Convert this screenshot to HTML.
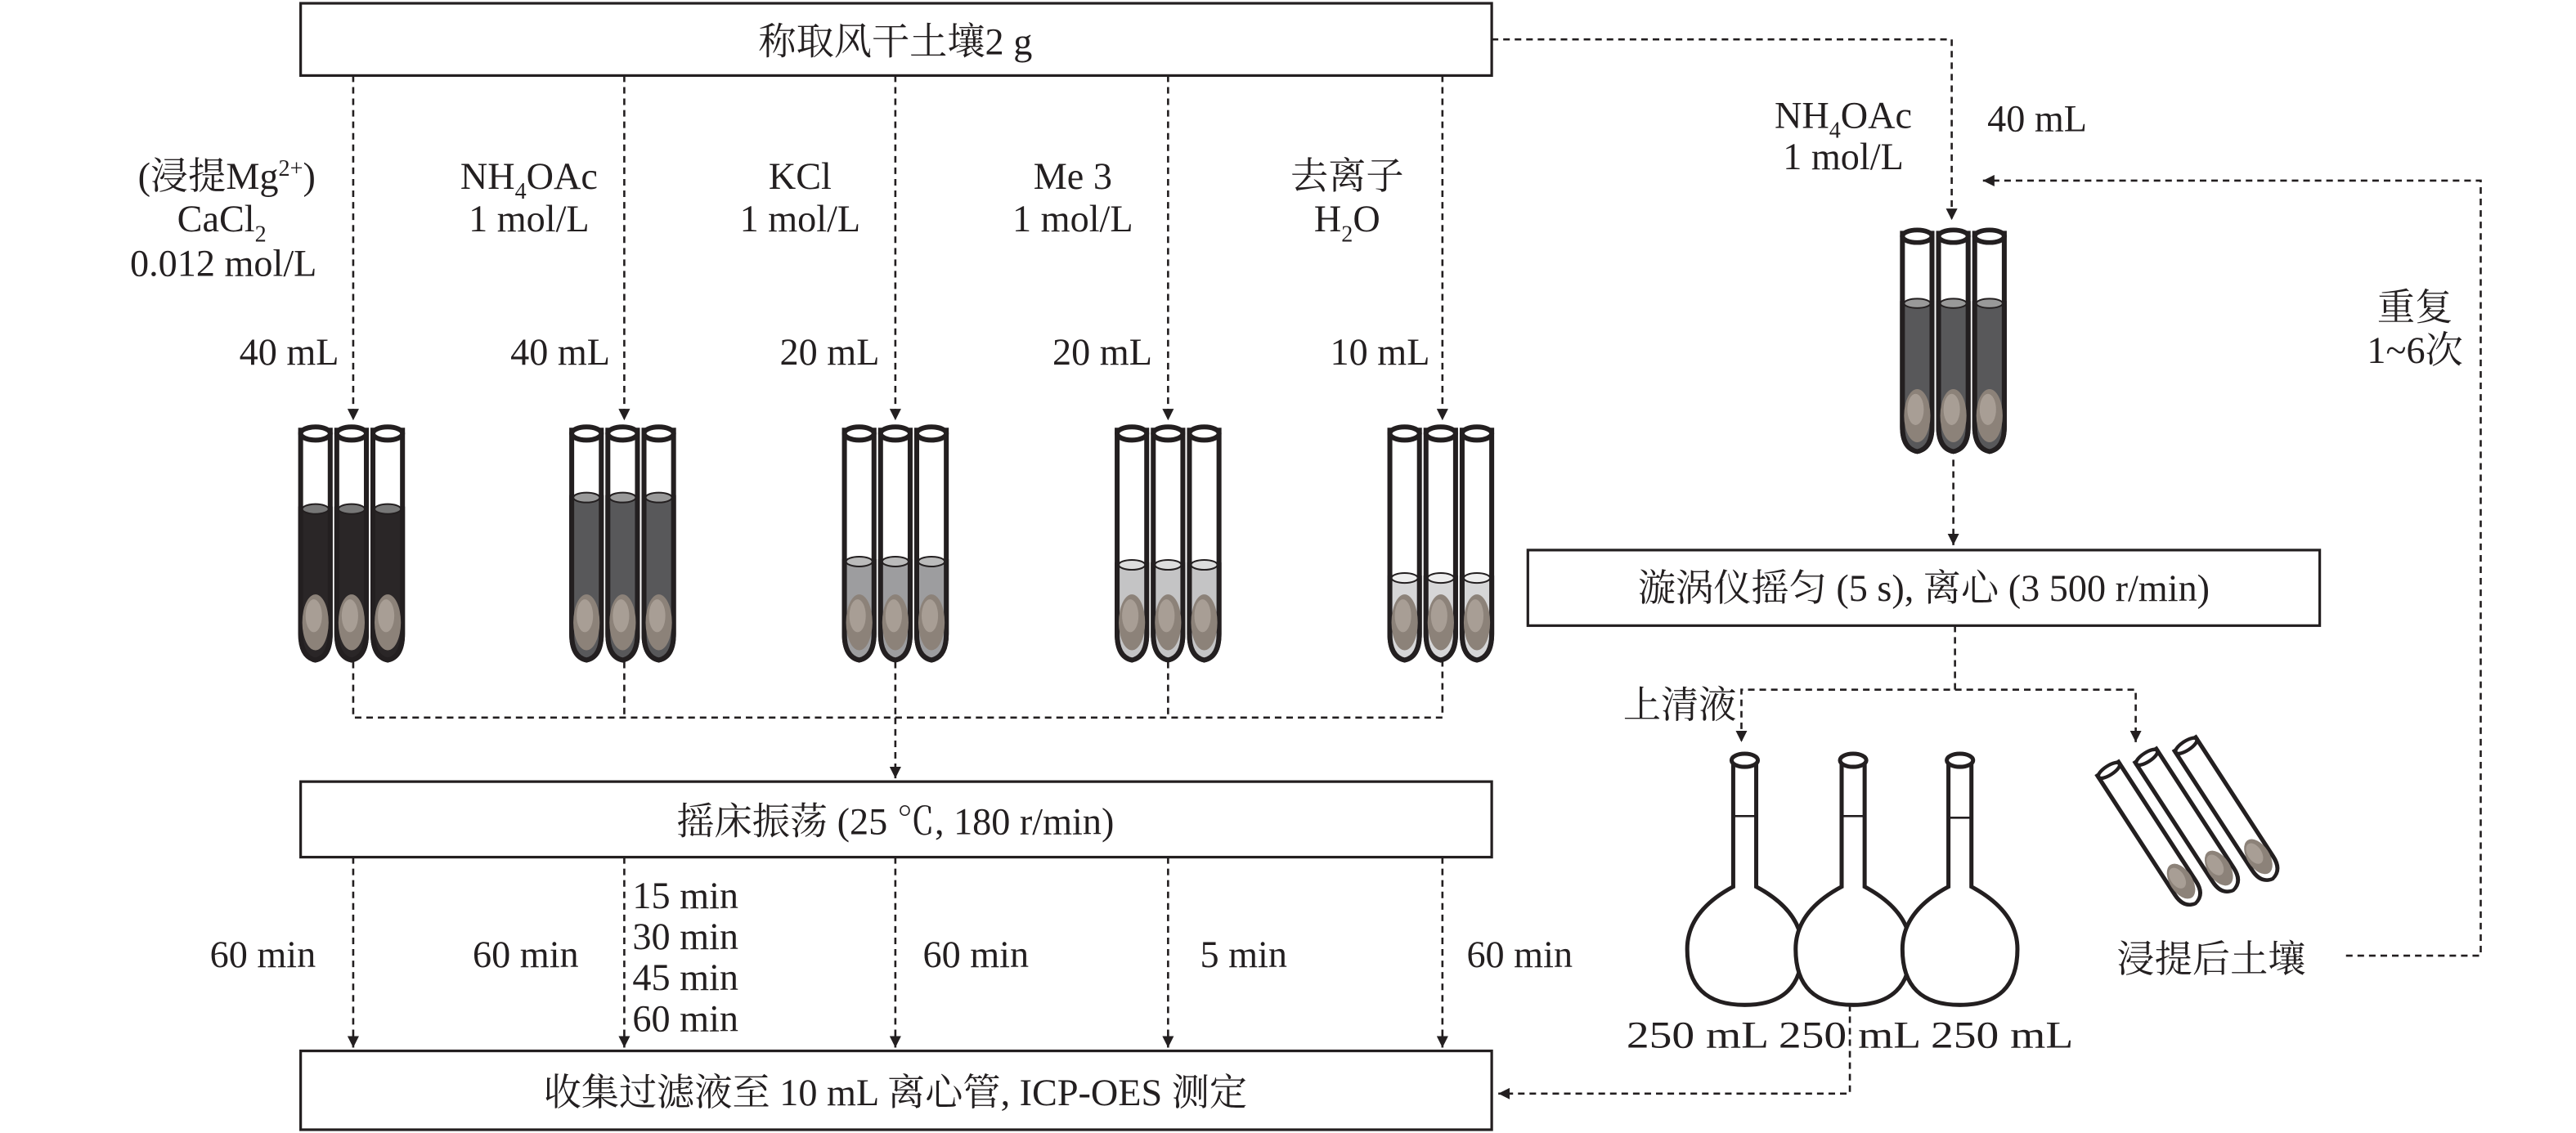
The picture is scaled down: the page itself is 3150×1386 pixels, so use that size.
<!DOCTYPE html>
<html><head><meta charset="utf-8"><style>
html,body{margin:0;padding:0;background:#fff;}
svg{display:block;}
text{font-family:"Liberation Serif","Noto Serif CJK SC",serif;font-size:23px;fill:#231f20;}
</style></head><body>
<svg width="3150" height="1386" viewBox="0 0 1568 690" preserveAspectRatio="none" xmlns="http://www.w3.org/2000/svg" font-family="Liberation Serif, Noto Serif CJK SC, serif">
<defs>
<marker id="ar" viewBox="0 0 10 10" refX="10" refY="5" markerWidth="7" markerHeight="7" orient="auto" markerUnits="userSpaceOnUse"><path d="M0,0 L10,5 L0,10 Z" fill="#231f20"/></marker>
<path id="tb" d="M-9,0 V124 Q-9,138 0,140 Q9,138 9,124 V0 Z"/>
<g id="soil"><ellipse cx="0" cy="117" rx="8" ry="17" fill="#8c8279"/><ellipse cx="-1" cy="113" rx="5" ry="10" fill="#a89e95"/></g>
</defs>
<g fill="none" stroke="#231f20" stroke-width="1.3" stroke-dasharray="4,3">
<path d="M215,46 V256" marker-end="url(#ar)"/>
<path d="M380,46 V256" marker-end="url(#ar)"/>
<path d="M545,46 V256" marker-end="url(#ar)"/>
<path d="M711,46 V256" marker-end="url(#ar)"/>
<path d="M878,46 V256" marker-end="url(#ar)"/>
<path d="M215,403 V437 H878 V403 M380,403 V437 M711,403 V437 M545,403 V437"/>
<path d="M545,437 V474" marker-end="url(#ar)"/>
<path d="M215,522 V638" marker-end="url(#ar)"/>
<path d="M380,522 V638" marker-end="url(#ar)"/>
<path d="M545,522 V638" marker-end="url(#ar)"/>
<path d="M711,522 V638" marker-end="url(#ar)"/>
<path d="M878,522 V638" marker-end="url(#ar)"/>
<path d="M908,24 H1188 V134" marker-end="url(#ar)"/>
<path d="M1189,280 V332" marker-end="url(#ar)"/>
<path d="M1190,381 V420 H1060 V452" marker-end="url(#ar)"/>
<path d="M1190,420 H1300 V452" marker-end="url(#ar)"/>
<path d="M1126,612 V666 H912" marker-end="url(#ar)"/>
<path d="M1428,582 H1510 V110 H1207" marker-end="url(#ar)"/>
</g>
<g fill="#fff" stroke="#231f20" stroke-width="1.6">
<rect x="183" y="2" width="725" height="44"/>
<rect x="183" y="476" width="725" height="46"/>
<rect x="183" y="640" width="725" height="48"/>
<rect x="930" y="335" width="482" height="46"/>
</g>
<text x="545" y="33" text-anchor="middle">称取风干土壤2 g</text>
<text x="545" y="508" text-anchor="middle">摇床振荡 (25 ℃, 180 r/min)</text>
<text x="545" y="673" text-anchor="middle">收集过滤液至 10 mL 离心管, ICP-OES 测定</text>
<text x="1171" y="366" text-anchor="middle">漩涡仪摇匀 (5 s), 离心 (3 500 r/min)</text>
<g text-anchor="middle">
<text x="138" y="115">(浸提Mg<tspan font-size="14" dy="-8">2+</tspan><tspan dy="8">)</tspan></text>
<text x="135" y="141">CaCl<tspan font-size="14" dy="6">2</tspan></text>
<text x="136" y="168">0.012 mol/L</text>
<text x="322" y="115">NH<tspan font-size="14" dy="6">4</tspan><tspan dy="-6">OAc</tspan></text>
<text x="322" y="141">1 mol/L</text>
<text x="487" y="115">KCl</text>
<text x="487" y="141">1 mol/L</text>
<text x="653" y="115">Me 3</text>
<text x="653" y="141">1 mol/L</text>
<text x="820" y="115">去离子</text>
<text x="820" y="141">H<tspan font-size="14" dy="6">2</tspan><tspan dy="-6">O</tspan></text>
<text x="176" y="222">40 mL</text>
<text x="341" y="222">40 mL</text>
<text x="505" y="222">20 mL</text>
<text x="671" y="222">20 mL</text>
<text x="840" y="222">10 mL</text>
<text x="160" y="589">60 min</text>
<text x="320" y="589">60 min</text>
<text x="594" y="589">60 min</text>
<text x="757" y="589">5 min</text>
<text x="925" y="589">60 min</text>
<text x="1122" y="78">NH<tspan font-size="14" dy="6">4</tspan><tspan dy="-6">OAc</tspan></text>
<text x="1122" y="103">1  mol/L</text>
<text x="1240" y="80">40 mL</text>
<text x="1470" y="195">重复</text>
<text x="1470" y="221">1~6次</text>
<text x="1346" y="592">浸提后土壤</text>
</g>
<g>
<text x="385" y="553">15 min</text>
<text x="385" y="578">30 min</text>
<text x="385" y="603">45 min</text>
<text x="385" y="628">60 min</text>
<text x="988" y="437">上清液</text>
<text x="990" y="638" textLength="272" lengthAdjust="spacingAndGlyphs">250 mL 250 mL 250 mL</text>
</g>
<g stroke="#231f20" stroke-width="3">
<g>
<g transform="translate(192,262)"><use href="#tb" fill="#fff"/><path d="M-9,48 V124 Q-9,138 0,140 Q9,138 9,124 V48 Z" fill="#2a2627"/><ellipse cx="0" cy="48" rx="8" ry="3" fill="#777" stroke-width="1"/><use href="#soil" stroke="none"/><ellipse cx="0" cy="2" rx="9" ry="4" fill="#fff"/></g>
<g transform="translate(214,262)"><use href="#tb" fill="#fff"/><path d="M-9,48 V124 Q-9,138 0,140 Q9,138 9,124 V48 Z" fill="#2a2627"/><ellipse cx="0" cy="48" rx="8" ry="3" fill="#777" stroke-width="1"/><use href="#soil" stroke="none"/><ellipse cx="0" cy="2" rx="9" ry="4" fill="#fff"/></g>
<g transform="translate(236,262)"><use href="#tb" fill="#fff"/><path d="M-9,48 V124 Q-9,138 0,140 Q9,138 9,124 V48 Z" fill="#2a2627"/><ellipse cx="0" cy="48" rx="8" ry="3" fill="#777" stroke-width="1"/><use href="#soil" stroke="none"/><ellipse cx="0" cy="2" rx="9" ry="4" fill="#fff"/></g>
</g>
<g>
<g transform="translate(357,262)"><use href="#tb" fill="#fff"/><path d="M-9,41 V124 Q-9,138 0,140 Q9,138 9,124 V41 Z" fill="#58585a"/><ellipse cx="0" cy="41" rx="8" ry="3" fill="#999" stroke-width="1"/><use href="#soil" stroke="none"/><ellipse cx="0" cy="2" rx="9" ry="4" fill="#fff"/></g>
<g transform="translate(379,262)"><use href="#tb" fill="#fff"/><path d="M-9,41 V124 Q-9,138 0,140 Q9,138 9,124 V41 Z" fill="#58585a"/><ellipse cx="0" cy="41" rx="8" ry="3" fill="#999" stroke-width="1"/><use href="#soil" stroke="none"/><ellipse cx="0" cy="2" rx="9" ry="4" fill="#fff"/></g>
<g transform="translate(401,262)"><use href="#tb" fill="#fff"/><path d="M-9,41 V124 Q-9,138 0,140 Q9,138 9,124 V41 Z" fill="#58585a"/><ellipse cx="0" cy="41" rx="8" ry="3" fill="#999" stroke-width="1"/><use href="#soil" stroke="none"/><ellipse cx="0" cy="2" rx="9" ry="4" fill="#fff"/></g>
</g>
<g>
<g transform="translate(523,262)"><use href="#tb" fill="#fff"/><path d="M-9,80 V124 Q-9,138 0,140 Q9,138 9,124 V80 Z" fill="#9d9d9f"/><ellipse cx="0" cy="80" rx="8" ry="3" fill="#bbb" stroke-width="1"/><use href="#soil" stroke="none"/><ellipse cx="0" cy="2" rx="9" ry="4" fill="#fff"/></g>
<g transform="translate(545,262)"><use href="#tb" fill="#fff"/><path d="M-9,80 V124 Q-9,138 0,140 Q9,138 9,124 V80 Z" fill="#9d9d9f"/><ellipse cx="0" cy="80" rx="8" ry="3" fill="#bbb" stroke-width="1"/><use href="#soil" stroke="none"/><ellipse cx="0" cy="2" rx="9" ry="4" fill="#fff"/></g>
<g transform="translate(567,262)"><use href="#tb" fill="#fff"/><path d="M-9,80 V124 Q-9,138 0,140 Q9,138 9,124 V80 Z" fill="#9d9d9f"/><ellipse cx="0" cy="80" rx="8" ry="3" fill="#bbb" stroke-width="1"/><use href="#soil" stroke="none"/><ellipse cx="0" cy="2" rx="9" ry="4" fill="#fff"/></g>
</g>
<g>
<g transform="translate(689,262)"><use href="#tb" fill="#fff"/><path d="M-9,82 V124 Q-9,138 0,140 Q9,138 9,124 V82 Z" fill="#c4c4c5"/><ellipse cx="0" cy="82" rx="8" ry="3" fill="#ddd" stroke-width="1"/><use href="#soil" stroke="none"/><ellipse cx="0" cy="2" rx="9" ry="4" fill="#fff"/></g>
<g transform="translate(711,262)"><use href="#tb" fill="#fff"/><path d="M-9,82 V124 Q-9,138 0,140 Q9,138 9,124 V82 Z" fill="#c4c4c5"/><ellipse cx="0" cy="82" rx="8" ry="3" fill="#ddd" stroke-width="1"/><use href="#soil" stroke="none"/><ellipse cx="0" cy="2" rx="9" ry="4" fill="#fff"/></g>
<g transform="translate(733,262)"><use href="#tb" fill="#fff"/><path d="M-9,82 V124 Q-9,138 0,140 Q9,138 9,124 V82 Z" fill="#c4c4c5"/><ellipse cx="0" cy="82" rx="8" ry="3" fill="#ddd" stroke-width="1"/><use href="#soil" stroke="none"/><ellipse cx="0" cy="2" rx="9" ry="4" fill="#fff"/></g>
</g>
<g>
<g transform="translate(855,262)"><use href="#tb" fill="#fff"/><path d="M-9,90 V124 Q-9,138 0,140 Q9,138 9,124 V90 Z" fill="#d6d6d7"/><ellipse cx="0" cy="90" rx="8" ry="3" fill="#eee" stroke-width="1"/><use href="#soil" stroke="none"/><ellipse cx="0" cy="2" rx="9" ry="4" fill="#fff"/></g>
<g transform="translate(877,262)"><use href="#tb" fill="#fff"/><path d="M-9,90 V124 Q-9,138 0,140 Q9,138 9,124 V90 Z" fill="#d6d6d7"/><ellipse cx="0" cy="90" rx="8" ry="3" fill="#eee" stroke-width="1"/><use href="#soil" stroke="none"/><ellipse cx="0" cy="2" rx="9" ry="4" fill="#fff"/></g>
<g transform="translate(899,262)"><use href="#tb" fill="#fff"/><path d="M-9,90 V124 Q-9,138 0,140 Q9,138 9,124 V90 Z" fill="#d6d6d7"/><ellipse cx="0" cy="90" rx="8" ry="3" fill="#eee" stroke-width="1"/><use href="#soil" stroke="none"/><ellipse cx="0" cy="2" rx="9" ry="4" fill="#fff"/></g>
</g>
<g>
<g transform="translate(1167,142) scale(1,0.95)"><use href="#tb" fill="#fff"/><path d="M-9,45 V124 Q-9,138 0,140 Q9,138 9,124 V45 Z" fill="#58585a"/><ellipse cx="0" cy="45" rx="8" ry="3" fill="#999" stroke-width="1"/><use href="#soil" stroke="none"/><ellipse cx="0" cy="2" rx="9" ry="4" fill="#fff"/></g>
<g transform="translate(1189,142) scale(1,0.95)"><use href="#tb" fill="#fff"/><path d="M-9,45 V124 Q-9,138 0,140 Q9,138 9,124 V45 Z" fill="#58585a"/><ellipse cx="0" cy="45" rx="8" ry="3" fill="#999" stroke-width="1"/><use href="#soil" stroke="none"/><ellipse cx="0" cy="2" rx="9" ry="4" fill="#fff"/></g>
<g transform="translate(1211,142) scale(1,0.95)"><use href="#tb" fill="#fff"/><path d="M-9,45 V124 Q-9,138 0,140 Q9,138 9,124 V45 Z" fill="#58585a"/><ellipse cx="0" cy="45" rx="8" ry="3" fill="#999" stroke-width="1"/><use href="#soil" stroke="none"/><ellipse cx="0" cy="2" rx="9" ry="4" fill="#fff"/></g>
</g>
<g transform="translate(1283,468) rotate(-33) scale(0.85,0.7)"><use href="#tb" fill="#fff"/><use href="#soil" stroke="none"/><ellipse cx="0" cy="2" rx="9" ry="4" fill="#fff"/></g>
<g transform="translate(1306,460) rotate(-33) scale(0.85,0.7)"><use href="#tb" fill="#fff"/><use href="#soil" stroke="none"/><ellipse cx="0" cy="2" rx="9" ry="4" fill="#fff"/></g>
<g transform="translate(1330,453) rotate(-33) scale(0.85,0.7)"><use href="#tb" fill="#fff"/><use href="#soil" stroke="none"/><ellipse cx="0" cy="2" rx="9" ry="4" fill="#fff"/></g>
</g>
<g fill="#fff" stroke="#231f20" stroke-width="2.5">
<g transform="translate(1062,0)"><path d="M-7,462 V540 Q-35,555 -35,578 Q-35,612 0,612 Q35,612 35,578 Q35,555 7,540 V462 Z"/><ellipse cx="0" cy="463" rx="8" ry="4"/><line x1="-7" y1="497" x2="7" y2="497" stroke-width="1.3"/></g>
<g transform="translate(1128,0)"><path d="M-7,462 V540 Q-35,555 -35,578 Q-35,612 0,612 Q35,612 35,578 Q35,555 7,540 V462 Z"/><ellipse cx="0" cy="463" rx="8" ry="4"/><line x1="-7" y1="497" x2="7" y2="497" stroke-width="1.3"/></g>
<g transform="translate(1193,0)"><path d="M-7,462 V540 Q-35,555 -35,578 Q-35,612 0,612 Q35,612 35,578 Q35,555 7,540 V462 Z"/><ellipse cx="0" cy="463" rx="8" ry="4"/><line x1="-7" y1="498" x2="7" y2="498" stroke-width="1.3"/></g>
</g>
</svg>
</body></html>
